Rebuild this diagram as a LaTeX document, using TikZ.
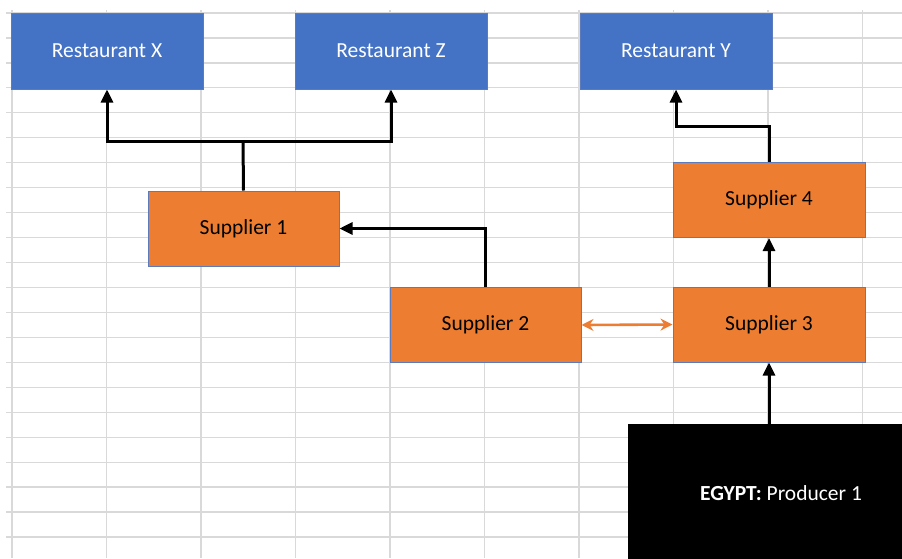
\documentclass[tikz,border=0pt]{standalone}
\usepackage{fontspec}
\setmainfont{Carlito}
\usetikzlibrary{arrows.meta}
\definecolor{xlblue}{HTML}{4472C4}
\definecolor{xlorange}{HTML}{ED7D31}
\definecolor{xledge}{HTML}{5B7BBE}
\definecolor{gridgray}{HTML}{D9D9D9}
\tikzset{
  cell/.style={draw=xledge, line width=1pt, minimum width=192pt, minimum height=76pt, inner sep=0pt, font=\fontsize{21.5}{25}\selectfont},
  rest/.style={cell, fill=xlblue, text=white},
  supp/.style={cell, fill=xlorange, text=black, minimum height=75pt},
  link/.style={line width=3pt, black, -{Triangle[length=13pt,width=12pt]}},
  plainlink/.style={line width=3pt, black},
  swap/.style={line width=2.6pt, xlorange, {Stealth[length=12pt,width=12pt]}-{Stealth[length=12pt,width=12pt]}}
}
\begin{document}
\begin{tikzpicture}[x=1pt,y=-1pt]
\useasboundingbox (0,0) rectangle (902,558);
\fill[white] (0,0) rectangle (902,558);
% spreadsheet grid
\foreach \k in {0,...,21} \draw[gridgray, line width=1.2pt] (6,13+24.95*\k) -- (902,13+24.95*\k);
\foreach \k in {0,...,9} \draw[gridgray, line width=1.2pt] (12+94.5*\k,10) -- (12+94.5*\k,558);
% boxes
\node[rest] (rx) at (107,51) {Restaurant X};
\node[rest] (rz) at (391,51) {Restaurant Z};
\node[rest] (ry) at (676,51) {Restaurant Y};
\node[supp, minimum width=191pt] (s1) at (243.5,228.5) {Supplier 1};
\node[supp, minimum width=191pt] (s2) at (485.5,325) {Supplier 2};
\node[supp] (s3) at (769,324.5) {Supplier 3};
\node[supp] (s4) at (769,200) {Supplier 4};
\node[fill=black, minimum width=306pt, minimum height=138pt, inner sep=0pt, text=white, font=\fontsize{21.5}{25}\selectfont] (eg) at (781,493) {\textbf{EGYPT:} Producer 1};
% connectors
\coordinate (j1) at (243,141);
\coordinate (j2) at (769,126);
\draw[plainlink] (s1.north) -- (j1);
\draw[link] (j1) -| (rx.south);
\draw[link] (j1) -| (rz.south);
\draw[link] (s2.north) |- (s1.east);
\draw[swap] (s2.east) -- (s3.west);
\draw[link] (s3.north) -- (s4.south);
\draw[link] (s4.north) -- (j2) -| (ry.south);
\draw[link] (s3.south |- eg.north) -- (s3.south);
\end{tikzpicture}
\end{document}
